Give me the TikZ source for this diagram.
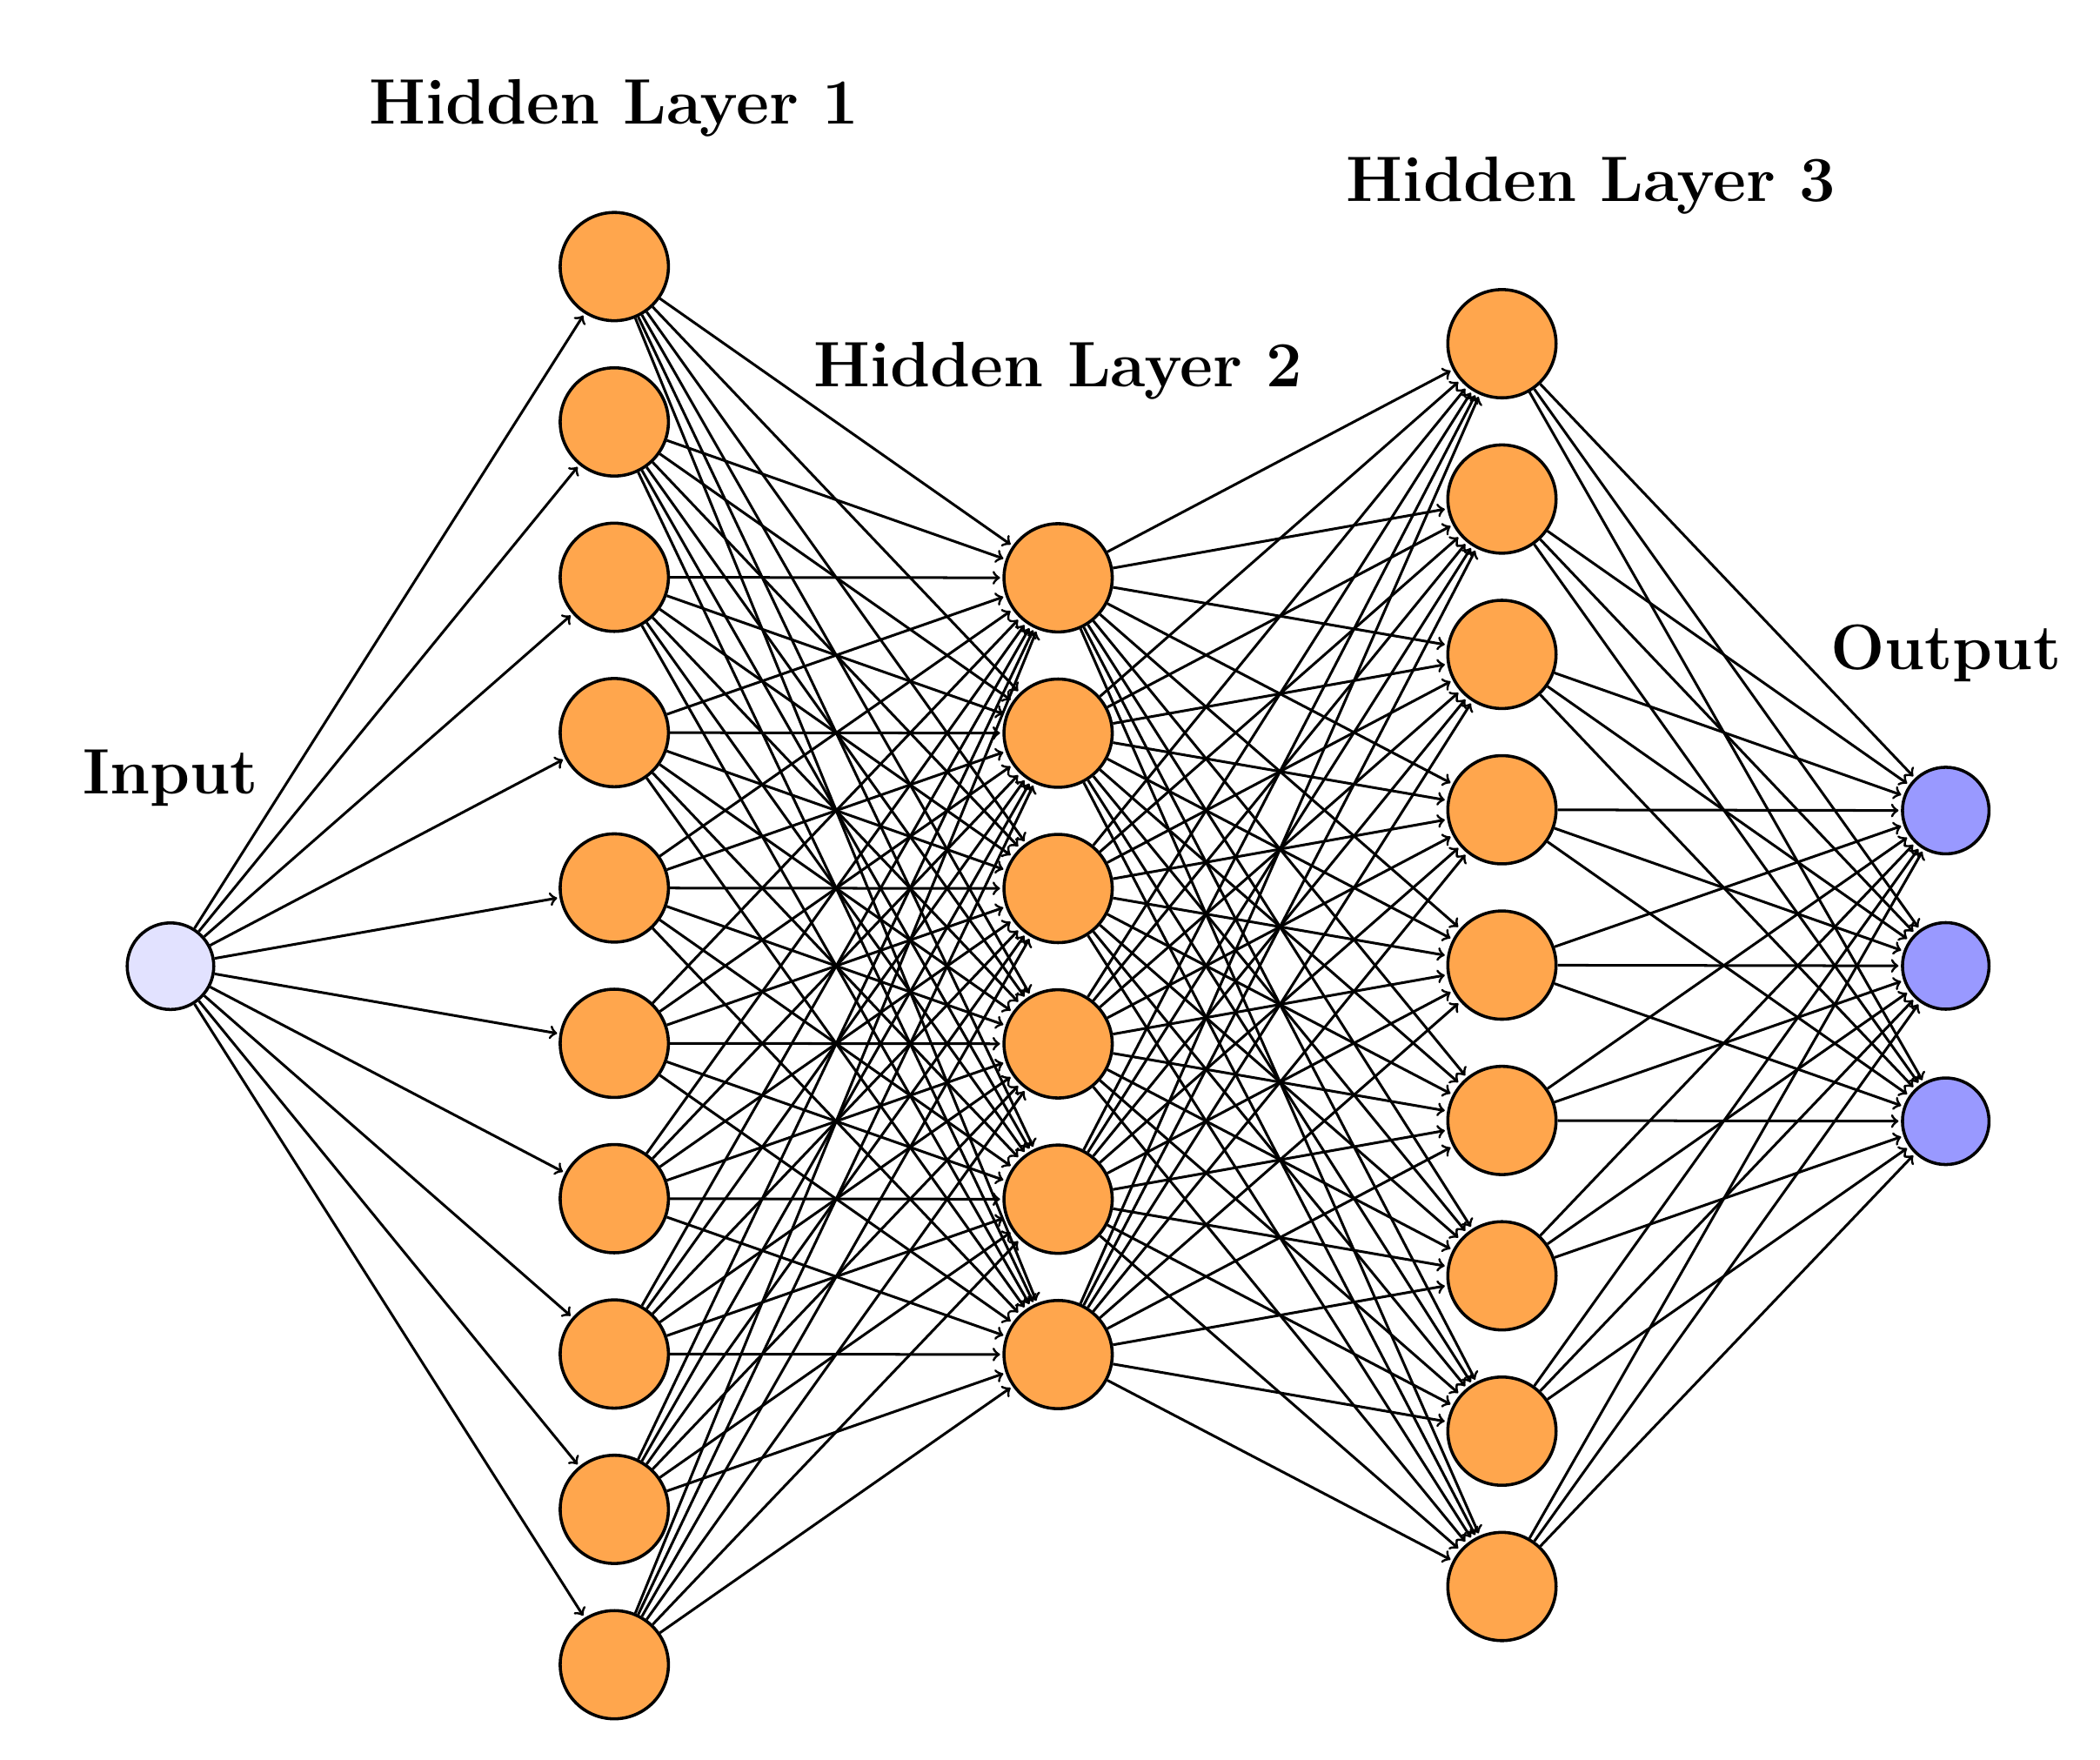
\documentclass[tikz,border=0pt]{standalone}
\begin{document}
\begin{tikzpicture}[x=0.02cm,y=-0.02cm,
  neuron/.style={circle,draw=black,line width=1.3pt,inner sep=0pt},
  hid/.style={neuron,fill={rgb,255:red,255;green,166;blue,77},minimum size=1.6cm},
  inp/.style={neuron,fill={rgb,255:red,226;green,226;blue,255},minimum size=1.28cm},
  outp/.style={neuron,fill={rgb,255:red,153;green,153;blue,255},minimum size=1.28cm},
  edge/.style={->,line width=1.1pt,shorten >=1pt},
  lab/.style={font=\fontsize{27}{32}\selectfont\bfseries}]
\useasboundingbox (0,0) rectangle (1552,1300);
\node[inp] (I) at (126,714) {};
\foreach \i in {1,...,10} \node[hid] (A\i) at (454,{197+(\i-1)*114.8}) {};
\foreach \i in {1,...,6} \node[hid] (B\i) at (782,{427+(\i-1)*114.8}) {};
\foreach \i in {1,...,9} \node[hid] (C\i) at (1110,{254+(\i-1)*114.8}) {};
\foreach \i in {1,...,3} \node[outp] (O\i) at (1438,{599+(\i-1)*114.8}) {};
\foreach \i in {1,...,10} \draw[edge] (I) -- (A\i);
\foreach \i in {1,...,10} \foreach \j in {1,...,6} \draw[edge] (A\i) -- (B\j);
\foreach \i in {1,...,6} \foreach \j in {1,...,9} \draw[edge] (B\i) -- (C\j);
\foreach \i in {1,...,9} \foreach \j in {1,...,3} \draw[edge] (C\i) -- (O\j);
\node[lab] (tI) at (126,575) {Input};
\node[lab] (tA) at (454,80) {Hidden Layer 1};
\node[lab] (tB) at (782,274) {Hidden Layer 2};
\node[lab] (tC) at (1176,137) {Hidden Layer 3};
\node[lab] (tO) at (1438,483) {Output};
\end{tikzpicture}
\end{document}
